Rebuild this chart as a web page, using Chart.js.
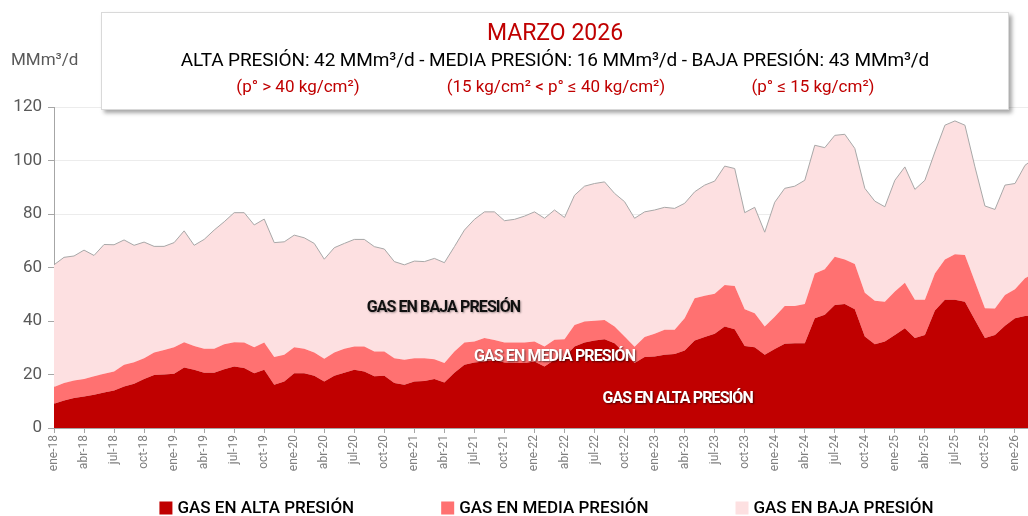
<!DOCTYPE html>
<html>
<head>
<meta charset="utf-8">
<script src="https://cdn.jsdelivr.net/npm/chart.js@4.4.1/dist/chart.umd.min.js"></script>
<style>
  html, body { margin: 0; padding: 0; background: #fff; overflow: hidden; }
  #wrap { position: relative; width: 1028px; height: 516px; overflow: hidden; font-family: Roboto, "Noto Sans", sans-serif; }
  #myChart { position: absolute; left: 0; top: 0; }
  #unit { position: absolute; left: 11px; top: 49px; font-size: 17px; color: #595959; }
  #box {
    position: absolute; left: 101px; top: 12px; width: 906px; height: 96px;
    background: #fff; border: 1px solid #d9d9d9;
    box-shadow: 3px 3px 4px rgba(0,0,0,0.35);
    text-align: center;
  }
  #box .t1 { position: absolute; left: 0; right: 0; top: 6px; font-size: 23px; color: #c00000; }
  #box .t2 { position: absolute; left: 0; right: 0; top: 35px; font-size: 19px; color: #000; letter-spacing: -0.1px; }
  #box .t3 { position: absolute; top: 63px; font-size: 17px; color: #c00000; transform: translateX(-50%); white-space: nowrap; }
</style>
</head>
<body>
<div id="wrap">
  <canvas id="myChart" width="1040" height="516"></canvas>
  <div id="unit">MMm³/d</div>
  <div id="box">
    <div class="t1">MARZO 2026</div>
    <div class="t2">ALTA PRESIÓN: 42 MMm³/d - MEDIA PRESIÓN: 16 MMm³/d - BAJA PRESIÓN: 43 MMm³/d</div>
    <div class="t3" style="left:196px">(p° &gt; 40 kg/cm²)</div>
    <div class="t3" style="left:454px">(15 kg/cm² &lt; p° ≤ 40 kg/cm²)</div>
    <div class="t3" style="left:711px">(p° ≤ 15 kg/cm²)</div>
  </div>
</div>
<script>
// months, ene-18 .. mar-26
const labels = [
  'ene-18','feb-18','mar-18','abr-18','may-18','jun-18','jul-18','ago-18','sep-18','oct-18','nov-18','dic-18',
  'ene-19','feb-19','mar-19','abr-19','may-19','jun-19','jul-19','ago-19','sep-19','oct-19','nov-19','dic-19',
  'ene-20','feb-20','mar-20','abr-20','may-20','jun-20','jul-20','ago-20','sep-20','oct-20','nov-20','dic-20',
  'ene-21','feb-21','mar-21','abr-21','may-21','jun-21','jul-21','ago-21','sep-21','oct-21','nov-21','dic-21',
  'ene-22','feb-22','mar-22','abr-22','may-22','jun-22','jul-22','ago-22','sep-22','oct-22','nov-22','dic-22',
  'ene-23','feb-23','mar-23','abr-23','may-23','jun-23','jul-23','ago-23','sep-23','oct-23','nov-23','dic-23',
  'ene-24','feb-24','mar-24','abr-24','may-24','jun-24','jul-24','ago-24','sep-24','oct-24','nov-24','dic-24',
  'ene-25','feb-25','mar-25','abr-25','may-25','jun-25','jul-25','ago-25','sep-25','oct-25','nov-25','dic-25',
  'ene-26','feb-26','mar-26'
]

// MMm3/d
const alta = [
  9.1,10.3,11.2,11.8,12.4,13.3,14.0,15.5,16.5,18.3,19.8,20.0,
  20.3,22.6,21.8,20.7,20.7,22.0,23.0,22.4,20.5,21.8,16.2,17.4,
  20.5,20.5,19.5,17.4,19.5,20.7,21.8,21.1,19.3,19.5,16.8,16.2,
  17.4,17.6,18.3,17.0,20.7,23.6,24.5,24.9,25.5,24.5,24.3,24.3,
  24.9,23.0,25.5,26.5,30.5,32.0,32.7,33.2,31.7,28.0,24.3,26.5,
  26.7,27.4,27.7,29.0,32.7,34.0,35.2,37.9,36.9,30.7,30.2,27.4,
  29.5,31.5,31.7,31.7,41.0,42.3,46.0,46.4,44.4,34.2,31.3,32.3,
  34.8,37.3,33.6,34.8,43.9,47.9,47.9,47.2,40.4,33.6,34.8,38.2,
  41.0,41.9,42.0
]
const media = [
  6.2,6.5,6.6,6.5,6.9,7.0,7.1,8.1,8.1,7.8,8.4,9.2,
  9.9,9.5,8.9,8.9,8.9,9.3,9.1,9.6,9.7,10.2,10.3,10.0,
  9.7,9.1,8.7,8.5,8.7,8.9,8.7,9.4,9.3,9.1,9.3,9.3,
  8.7,8.5,7.4,7.3,7.9,8.4,7.8,8.7,7.4,7.5,7.7,7.7,
  7.4,7.5,7.5,6.7,8.0,7.8,7.4,7.2,6.2,6.2,6.1,7.5,
  8.5,9.3,9.0,12.0,15.8,15.4,15.0,15.6,16.2,13.7,12.7,10.5,
  12.1,14.1,13.9,14.7,16.8,17.0,18.0,16.6,16.9,16.4,16.3,14.9,
  16.2,17.0,14.3,13.1,13.9,15.1,17.1,17.5,14.3,11.2,9.9,11.5,
  10.9,14.1,16.0
]
const baja = [
  45.7,47.0,46.5,48.2,45.2,48.3,47.4,46.7,43.7,43.4,39.7,38.7,
  39.1,41.6,37.6,40.9,44.4,45.8,48.4,48.5,45.7,46.1,42.8,42.2,
  41.9,41.5,40.8,37.2,39.2,39.4,40.0,40.0,39.2,38.3,36.1,35.5,
  36.3,36.1,37.7,37.5,39.2,42.0,45.7,47.2,47.9,45.5,46.0,47.2,
  48.5,47.9,48.5,45.5,48.5,50.6,51.3,51.6,49.8,50.4,48.0,46.8,
  46.3,45.8,45.4,43.0,39.8,41.4,42.1,44.4,43.9,36.1,39.6,35.3,
  42.8,44.0,44.8,46.2,47.9,45.5,45.4,46.8,43.2,39.0,37.2,35.5,
  41.6,43.3,41.3,44.7,45.4,50.2,49.8,48.5,42.9,38.2,37.0,41.1,
  39.5,42.2,43.0
]

const yTicks = [0, 20, 40, 60, 80, 100, 120]
const seriesNames = ['GAS EN ALTA PRESIÓN', 'GAS EN MEDIA PRESIÓN', 'GAS EN BAJA PRESIÓN']
const seriesColors = ['#c00000', '#ff7171', '#fde0e1']

// text written inside the areas: [index, value]
const areaLabels = [
  { text: 'GAS EN BAJA PRESIÓN', at: [38.9, 44.9], color: '#111', shadow: 'rgba(0,0,0,0.35)' },
  { text: 'GAS EN MEDIA PRESIÓN', at: [50.0, 26.6], color: '#fff', shadow: 'rgba(0,0,0,0.6)' },
  { text: 'GAS EN ALTA PRESIÓN', at: [62.3, 10.9], color: '#fff', shadow: 'rgba(0,0,0,0.6)' }
]

const areaLabelPlugin = {
  id: 'areaLabels',
  afterDatasetsDraw(chart) {
    const c = chart.ctx
    const x = chart.scales.x, y = chart.scales.y
    c.save()
    c.font = 'bold 16px Roboto'
    c.letterSpacing = '-0.9px'
    c.textAlign = 'center'
    c.textBaseline = 'middle'
    areaLabels.forEach(l => {
      c.shadowColor = l.shadow
      c.shadowBlur = 2
      c.shadowOffsetX = 1
      c.shadowOffsetY = 1
      c.fillStyle = l.color
      c.fillText(l.text, x.getPixelForValue(l.at[0]), y.getPixelForValue(l.at[1]))
    })
    c.restore()
  }
}

// legend row under the axis
const bottomLegend = {
  id: 'bottomLegend',
  afterDraw(chart) {
    const c = chart.ctx
    const area = chart.chartArea
    const box = 13, gap = 5, space = 87
    c.save()
    c.font = '500 17px Roboto'
    c.textBaseline = 'middle'
    const items = chart.data.datasets.map(d => ({ text: d.label, color: d.backgroundColor, w: c.measureText(d.label).width }))
    let total = 0
    items.forEach((it, i) => { total += box + gap + it.w + (i ? space : 0) })
    let xPos = (area.left + area.right) / 2 - total / 2 + 2
    const yPos = 508
    items.forEach(it => {
      c.fillStyle = it.color
      c.fillRect(xPos, yPos - box / 2, box, box)
      c.fillStyle = '#000'
      c.fillText(it.text, xPos + box + gap, yPos + 1)
      xPos += box + gap + it.w + space
    })
    c.restore()
  }
}

const ctx = document.getElementById('myChart')

new Chart(ctx, {
  type: 'line',
  data: {
    labels: labels,
    datasets: [
      { label: seriesNames[0], data: alta, backgroundColor: seriesColors[0], borderWidth: 0, fill: 'origin' },
      { label: seriesNames[1], data: media, backgroundColor: seriesColors[1], borderWidth: 0, fill: '-1' },
      { label: seriesNames[2], data: baja, backgroundColor: seriesColors[2], borderColor: '#a8a8a8', borderWidth: 1, fill: '-1' }
    ]
  },
  options: {
    responsive: false,
    animation: false,
    devicePixelRatio: 1,
    elements: { point: { radius: 0 }, line: { tension: 0 } },
    layout: { padding: { top: 107, right: 5, bottom: 40, left: 0 } },
    plugins: { legend: { display: false }, tooltip: { enabled: false } },
    scales: {
      x: {
        stacked: true,
        offset: false,
        afterFit(scale) { scale.height = 48 },
        grid: { drawOnChartArea: false, tickLength: 5, tickColor: '#a6a6a6' },
        border: { color: '#a6a6a6' },
        ticks: {
          autoSkip: false, minRotation: 90, maxRotation: 90, padding: 2,
          color: '#7f7f7f', font: { family: 'Roboto', size: 12 },
          callback(value, index) { return index % 3 === 0 ? labels[index] : null }
        }
      },
      y: {
        stacked: true,
        min: yTicks[0],
        max: yTicks[yTicks.length - 1],
        afterFit(scale) { scale.width = 54 },
        afterBuildTicks(scale) { scale.ticks = yTicks.map(v => ({ value: v })) },
        grid: { color: '#ececec', tickLength: 6, tickColor: '#a6a6a6' },
        border: { color: '#a6a6a6' },
        ticks: { color: '#595959', padding: 6, font: { family: 'Roboto', size: 17 } }
      }
    }
  },
  plugins: [areaLabelPlugin, bottomLegend]
})
</script>
</body>
</html>
